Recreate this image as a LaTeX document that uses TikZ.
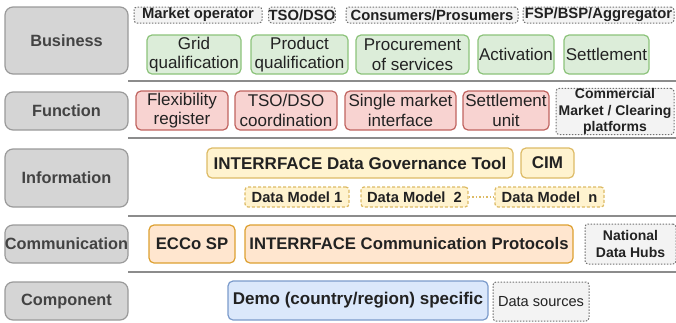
\documentclass[tikz,border=0pt]{standalone}
\usepackage{fontspec}
\setmainfont{Liberation Sans}
\begin{document}
\definecolor{txt}{HTML}{222222}
\definecolor{lblfill}{HTML}{D5D5D5}
\definecolor{lbldraw}{HTML}{9A9A9A}
\definecolor{dfill}{HTML}{F3F3F3}
\definecolor{ddraw}{HTML}{707070}
\definecolor{gfill}{HTML}{DCEDD9}
\definecolor{gdraw}{HTML}{8CC37A}
\definecolor{rfill}{HTML}{F8D3D1}
\definecolor{rdraw}{HTML}{C06460}
\definecolor{yfill}{HTML}{FFF3CF}
\definecolor{ydraw}{HTML}{DDBB66}
\definecolor{ofill}{HTML}{FFE6CF}
\definecolor{odraw}{HTML}{DDA030}
\definecolor{bfill}{HTML}{DBE8FB}
\definecolor{bdraw}{HTML}{7B9BCB}
\definecolor{sep}{HTML}{8C8C8C}
\begin{tikzpicture}[x=1pt,y=-1pt,
  every node/.style={inner sep=0pt, align=center, text=txt},
  layer/.style={fill=lblfill, draw=lbldraw, line width=1.2pt, rounded corners=8pt,
    minimum width=123pt, font=\bfseries\fontsize{16.3}{19}\selectfont, text=txt!85},
  actor/.style={fill=dfill, draw=ddraw, line width=1pt, dash pattern=on 1.5pt off 1.5pt,
    rounded corners=3pt, font=\bfseries\fontsize{14.8}{16.5}\selectfont},
  gbox/.style={fill=gfill, draw=gdraw, line width=1.2pt, rounded corners=5pt,
    font=\fontsize{17}{19.5}\selectfont},
  rbox/.style={fill=rfill, draw=rdraw, line width=1.2pt, rounded corners=5pt,
    font=\fontsize{17}{19.5}\selectfont},
  ybox/.style={fill=yfill, draw=ydraw, line width=1.2pt, rounded corners=5pt,
    font=\bfseries\fontsize{17}{19.5}\selectfont},
  ydash/.style={fill=yfill, draw=ydraw, line width=1.2pt, dash pattern=on 3pt off 2pt,
    rounded corners=3pt, font=\bfseries\fontsize{14.7}{17}\selectfont},
  obox/.style={fill=ofill, draw=odraw, line width=1.2pt, rounded corners=5pt,
    font=\bfseries\fontsize{16.7}{19.5}\selectfont},
  bbox/.style={fill=bfill, draw=bdraw, line width=1.2pt, rounded corners=5pt,
    font=\bfseries\fontsize{17}{19.5}\selectfont},
  small/.style={font=\bfseries\fontsize{14}{16.5}\selectfont},
  sepline/.style={draw=sep, line width=1.6pt}
]
\useasboundingbox (0,0) rectangle (676,322);

% separators
\coordinate (s1a) at (128,81);  \coordinate (s1b) at (676,81);
\coordinate (s2a) at (128,138); \coordinate (s2b) at (676,138);
\coordinate (s3a) at (128,216); \coordinate (s3b) at (676,216);
\coordinate (s4a) at (128,272); \coordinate (s4b) at (676,272);
\draw[sepline] (s1a) -- (s1b);
\draw[sepline] (s2a) -- (s2b);
\draw[sepline] (s3a) -- (s3b);
\draw[sepline] (s4a) -- (s4b);

% layer labels
\node[layer, minimum height=67pt] (business) at (66.5,40.5) {Business};
\node[layer, minimum height=38pt] (function) at (66.5,111) {Function};
\node[layer, minimum height=58pt] (information) at (66.5,178) {Information};
\node[layer, minimum height=38pt] (communication) at (66.5,244) {Communication};
\node[layer, minimum height=38pt] (component) at (66.5,301) {Component};

% business actors
\node[actor, minimum width=128pt, minimum height=16pt] (mo) at (198,15) {Market operator};
\node[actor, minimum width=66pt, minimum height=16pt] (tso) at (302,15) {TSO/DSO};
\node[actor, minimum width=172pt, minimum height=16pt] (cp) at (432,15) {Consumers/Prosumers};
\node[actor, minimum width=151pt, minimum height=16pt] (fsp) at (598.5,15) {FSP/BSP/Aggregator};

% business processes
\node[gbox, minimum width=94pt, minimum height=39pt] (gq) at (194,54.5) {Grid\\qualification};
\node[gbox, minimum width=97pt, minimum height=39pt] (pq) at (299.5,54.5) {Product\\qualification};
\node[gbox, minimum width=113pt, minimum height=39pt] (ps) at (412.5,54.5) {Procurement\\of services};
\node[gbox, minimum width=76pt, minimum height=39pt] (act) at (516,54.5) {Activation};
\node[gbox, minimum width=85pt, minimum height=39pt] (set) at (606.5,54.5) {Settlement};

% functions
\node[rbox, minimum width=92pt, minimum height=39pt] (fr) at (182,110.5) {Flexibility\\register};
\node[rbox, minimum width=102pt, minimum height=39pt] (tc) at (286,110.5) {TSO/DSO\\coordination};
\node[rbox, minimum width=111pt, minimum height=39pt] (smi) at (400.5,110.5) {Single market\\interface};
\node[rbox, minimum width=86pt, minimum height=39pt] (su) at (506,110.5) {Settlement\\unit};
\node[actor, small, minimum width=118pt, minimum height=45pt] (cm) at (615,111.5) {Commercial\\Market / Clearing\\platforms};

% information
\node[ybox, minimum width=306pt, minimum height=30pt] (dgt) at (360,163) {INTERRFACE Data Governance Tool};
\node[ybox, minimum width=53pt, minimum height=30pt] (cim) at (547.5,163) {CIM};
\node[ydash, minimum width=104pt, minimum height=20pt] (dm1) at (297,197) {Data Model 1};
\node[ydash, minimum width=107pt, minimum height=20pt] (dm2) at (414.5,197) {Data Model\ \ 2};
\node[ydash, minimum width=109pt, minimum height=20pt] (dmn) at (549.5,197) {Data Model\ \ n};
\draw[draw=ydraw, line width=1.2pt, dash pattern=on 1.5pt off 2pt] (dm2.east) -- (dmn.west);

% communication
\node[obox, minimum width=86pt, minimum height=38pt] (ecco) at (192,244) {ECCo SP};
\node[obox, minimum width=328pt, minimum height=38pt] (icp) at (409,244) {INTERRFACE Communication Protocols};
\node[actor, small, minimum width=91pt, minimum height=40pt] (ndh) at (630.5,244) {National\\Data Hubs};

% component
\node[bbox, minimum width=260pt, minimum height=39pt] (demo) at (358,300.5) {Demo (country/region) specific};
\node[actor, font=\fontsize{14.6}{17}\selectfont, minimum width=96pt, minimum height=39pt] (ds) at (541,301.5) {Data sources};
\end{tikzpicture}
\end{document}
